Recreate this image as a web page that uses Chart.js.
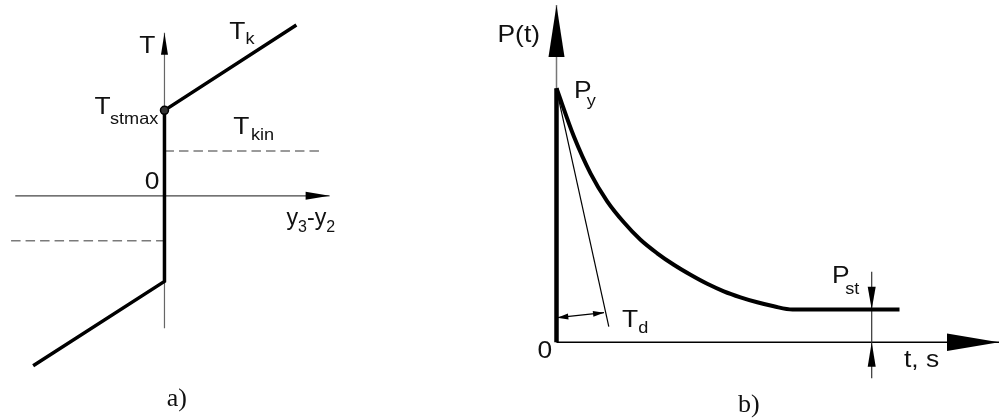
<!DOCTYPE html>
<html>
<head>
<meta charset="utf-8">
<script src="https://cdn.jsdelivr.net/npm/chart.js@4"></script>
<style>
    body { margin: 0; background: #fff; }
    canvas { position: absolute; top: 0; }
    #chartA { left: 0; }
    #chartB { left: 480px; }
</style>
</head>
<body>
<canvas id="chartA" width="480" height="419"></canvas>
<canvas id="chartB" width="519" height="419"></canvas>
<script>
// ---- a) характеристика трения, T от (y3 - y2) ----
const slipX = [-13.44, 0, 0, 13.5];
const slipT = [-17.45, -8.78, 8.78, 17.55];
const tStMaxX = [0];
const tStMax = [8.78];
const tKinUpX = [0, 16.0];
const tKinLowX = [-15.7, 0];
const tKin = 4.6;
const axisAX = [-15.27, 16.9];
const axisAT = [-13.6, 16.75];

// ---- b) давление P(t) ----
const timeT = [0, 1.73, 3.4, 5.07, 6.73, 8.4, 10.07, 11.73, 13.4, 15.07, 16.73, 18.4, 20.07, 21.73, 23.6, 34.3];
const pressP = [25.4, 20.6, 16.9, 14.1, 12.0, 10.25, 8.9, 7.75, 6.75, 5.85, 5.1, 4.5, 4.0, 3.6, 3.28, 3.28];
const pY = 25.4;
const tangentT = [0, 5.23];
const tangentP = [25.3, 1.57];
const tdT = [0.08, 4.75];
const tdP = [2.46, 2.96];
const pStT = 31.52;
const pStLineP = [-3.6, 7.06];
const pStDownP = [5.56, 3.28];
const pStUpP = [-2.44, 0];
const axisBT = [0, 44.25];
const axisBP = [0, 33.73];

const zip = (xs, ys) => xs.map((x, i) => ({x: x, y: ys[i]}));
const line = (data, color, width, extra) => Object.assign({
    data: data, borderColor: color, borderWidth: width, showLine: true,
    pointRadius: 0, fill: false, tension: 0
}, extra || {});

// стрелки на концах линий
const arrowPlugin = {
    id: 'arrows',
    afterDatasetsDraw(chart) {
        const ctx = chart.ctx;
        chart.data.datasets.forEach((ds, i) => {
            if (!ds.arrow) return;
            const pts = chart.getDatasetMeta(i).data;
            const n = pts.length;
            const head = (tip, from) => {
                const dx = tip.x - from.x, dy = tip.y - from.y;
                const d = Math.hypot(dx, dy);
                const ux = dx / d, uy = dy / d, h = ds.arrow.half;
                const bx = tip.x - ux * ds.arrow.len, by = tip.y - uy * ds.arrow.len;
                ctx.beginPath();
                ctx.moveTo(tip.x, tip.y);
                ctx.lineTo(bx - uy * h, by + ux * h);
                ctx.lineTo(bx + uy * h, by - ux * h);
                ctx.closePath();
                ctx.fill();
            };
            ctx.save();
            ctx.fillStyle = '#000';
            head(pts[n - 1], pts[n - 2]);
            if (ds.arrow.both) head(pts[0], pts[1]);
            ctx.restore();
        });
    }
};

// подписи с индексами
const textPlugin = {
    id: 'texts',
    afterDraw(chart, args, opts) {
        const ctx = chart.ctx;
        const sx = chart.scales.x, sy = chart.scales.y;
        opts.items.forEach(item => {
            ctx.save();
            ctx.translate(sx.getPixelForValue(item.x), sy.getPixelForValue(item.y));
            ctx.scale(item.sx === undefined ? 1.1 : item.sx, 1);
            ctx.fillStyle = '#111';
            ctx.textBaseline = 'alphabetic';
            let cx = 0;
            item.parts.forEach(([t, sub, dx]) => {
                ctx.font = item.serif ? '26px "Liberation Serif"' :
                    (sub ? '16.5px "Liberation Sans"' : '24px "Liberation Sans"');
                cx += dx || 0;
                ctx.fillText(t, cx, sub ? (item.dy || 7) : 0);
                cx += ctx.measureText(t).width;
            });
            ctx.restore();
        });
    }
};

const labelsA = [
    {x: -2.57, y: 14.72, parts: [['T']]},
    {x: 6.63, y: 16.15, parts: [['T'], ['k', 1]], dy: 5},
    {x: -7.17, y: 8.38, parts: [['T'], ['stmax', 1, -0.5]], dy: 10},
    {x: 7.03, y: 6.38, parts: [['T'], ['kin', 1, 1.5]], dy: 6},
    {x: -2.02, y: 0.75, parts: [['0']]},
    {x: 12.48, y: -2.95, parts: [['y'], ['3', 1], ['-'], ['y'], ['2', 1]], dy: 7.5, sx: 0.97},
    {x: 0.23, y: -21.55, parts: [['a)']], serif: true, sx: 1}
];

const labelsB = [
    {x: -5.9, y: 30.06, parts: [['P(t)']]},
    {x: 1.75, y: 24.4, parts: [['P'], ['y', 1, -4.5]], dy: 8},
    {x: 6.55, y: 1.53, parts: [['T'], ['d', 1]], dy: 6},
    {x: 27.55, y: 5.93, parts: [['P'], ['st', 1, -4]], dy: 10.5},
    {x: -1.9, y: -1.6, parts: [['0']]},
    {x: 34.75, y: -2.47, parts: [['t, s']]},
    {x: 18.15, y: -6.97, parts: [['b)']], serif: true, sx: 1}
];

const baseOptions = (xr, yr, labels) => ({
    responsive: false,
    animation: false,
    events: [],
    layout: {padding: 0},
    plugins: {legend: {display: false}, tooltip: {enabled: false}, texts: {items: labels}},
    scales: {
        x: {type: 'linear', display: false, min: xr[0], max: xr[1]},
        y: {type: 'linear', display: false, min: yr[0], max: yr[1]}
    }
});

window.onload = () => {
    new Chart(document.getElementById('chartA').getContext('2d'), {
        type: 'scatter',
        data: {
            datasets: [
                {data: zip(tStMaxX, tStMax), pointRadius: 4, pointBackgroundColor: '#333',
                    pointBorderColor: '#000', pointBorderWidth: 1.5, showLine: false},
                line(zip(slipX, slipT), '#000', 3.5),
                line(zip(tKinUpX, [tKin, tKin]), '#7a7a7a', 1.5, {borderDash: [9.5, 5]}),
                line(zip(tKinLowX, [-tKin, -tKin]), '#7a7a7a', 1.5, {borderDash: [9.5, 5]}),
                line(zip(axisAX, [0, 0]), '#444', 1.2, {arrow: {len: 24, half: 4}}),
                line(zip([0, 0], axisAT), '#666', 1.2, {arrow: {len: 22, half: 3.5}})
            ]
        },
        options: baseOptions([-16.27, 31.73], [-22.35, 19.55], labelsA),
        plugins: [arrowPlugin, textPlugin]
    });

    new Chart(document.getElementById('chartB').getContext('2d'), {
        type: 'scatter',
        data: {
            datasets: [
                line(zip(timeT, pressP), '#000', 4, {cubicInterpolationMode: 'monotone'}),
                line(zip([0, 0], [0, pY]), '#000', 4.5),
                line(zip(tangentT, tangentP), '#000', 1.2),
                line(zip(tdT, tdP), '#000', 1.2, {arrow: {len: 11, half: 3, both: true}}),
                line(zip([pStT, pStT], pStLineP), '#333', 1.2),
                line(zip([pStT, pStT], pStDownP), '#000', 0, {arrow: {len: 22.8, half: 4}}),
                line(zip([pStT, pStT], pStUpP), '#000', 0, {arrow: {len: 24.4, half: 4}}),
                line(zip(axisBT, [0, 0]), '#000', 1.5, {arrow: {len: 52, half: 8.7}}),
                line(zip([0, 0], axisBP), '#777', 1.5, {arrow: {len: 52, half: 8}})
            ]
        },
        options: baseOptions([-7.65, 44.25], [-7.67, 34.23], labelsB),
        plugins: [arrowPlugin, textPlugin]
    });
}
</script>
</body>
</html>
